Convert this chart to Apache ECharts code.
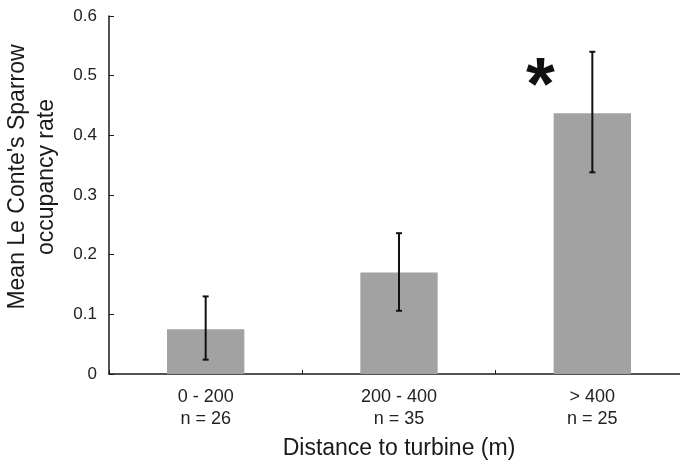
<!DOCTYPE html>
<html>
<head>
<meta charset="utf-8">
<script src="https://cdn.jsdelivr.net/npm/echarts@6/dist/echarts.min.js"></script>
<style>html,body{margin:0;padding:0;background:#fff}#c{width:680px;height:460px}</style>
</head>
<body>
<div id="c"></div>
<script>
const distanceBins = ['0 - 200', '200 - 400', '> 400'];
const sampleSizes = [26, 35, 25];
const meanOccupancy = [0.075, 0.170, 0.437];
const errLow = [0.024, 0.106, 0.338];
const errHigh = [0.130, 0.236, 0.540];
const yTicks = [0, 0.1, 0.2, 0.3, 0.4, 0.5, 0.6];
const significance = ['', '', '*'];

const categories = distanceBins.map((d, i) => d + '\nn = ' + sampleSizes[i]);
const FONT = 'Liberation Sans, Arial, sans-serif';

const chart = echarts.init(document.getElementById('c'), null, {renderer: 'canvas'});
chart.setOption({
  animation: false,
  backgroundColor: '#fff',
  grid: {left: 109, top: 16, width: 580, height: 358, containLabel: false, outerBoundsMode: 'none'},
  xAxis: {
    type: 'category',
    data: categories,
    name: 'Distance to turbine (m)',
    nameLocation: 'middle',
    nameGap: 63,
    nameTextStyle: {fontFamily: FONT, fontSize: 23, color: '#1a1a1a'},
    axisLine: {lineStyle: {color: '#1a1a1a', width: 1.5}},
    axisTick: {show: true, inside: true, length: 4, lineStyle: {color: '#1a1a1a'}},
    axisLabel: {fontFamily: FONT, fontSize: 18, color: '#222', margin: 12, lineHeight: 22},
    splitLine: {show: false}
  },
  yAxis: {
    type: 'value',
    min: yTicks[0],
    max: yTicks[yTicks.length - 1],
    interval: 0.1,
    name: "Mean Le Conte's Sparrow\noccupancy rate",
    nameLocation: 'middle',
    nameGap: 48,
    nameTextStyle: {fontFamily: FONT, fontSize: 23, color: '#1a1a1a', lineHeight: 29, padding: [0, 0, 0, 36]},
    axisLine: {show: true, lineStyle: {color: '#1a1a1a', width: 1.5}},
    axisTick: {show: true, inside: true, length: 5, lineStyle: {color: '#1a1a1a'}},
    axisLabel: {fontFamily: FONT, fontSize: 17, color: '#222', margin: 12,
      formatter: v => (v === 0 ? '0' : v.toFixed(1))},
    splitLine: {show: false}
  },
  series: [
    {
      type: 'bar',
      data: meanOccupancy,
      barWidth: '40%',
      itemStyle: {color: '#a2a2a2'},
      z: 2
    },
    {
      type: 'custom',
      z: 5,
      data: meanOccupancy.map((m, i) => [i, errLow[i], errHigh[i]]),
      renderItem: function (params, api) {
        const x = api.coord([api.value(0), 0])[0];
        const lo = api.coord([api.value(0), api.value(1)])[1];
        const hi = api.coord([api.value(0), api.value(2)])[1];
        const cap = 3;
        const children = [
          {type: 'line', shape: {x1: x, y1: lo, x2: x, y2: hi}, style: {stroke: '#111', lineWidth: 2}},
          {type: 'line', shape: {x1: x - cap, y1: lo, x2: x + cap, y2: lo}, style: {stroke: '#111', lineWidth: 2}},
          {type: 'line', shape: {x1: x - cap, y1: hi, x2: x + cap, y2: hi}, style: {stroke: '#111', lineWidth: 2}}
        ];
        const sig = significance[params.dataIndex];
        if (sig) {
          children.push({
            type: 'text',
            style: {
              text: sig, x: x - 52, y: hi,
              fontFamily: FONT, fontSize: 74, fontWeight: 'bold', fill: '#111',
              align: 'center', verticalAlign: 'top'
            }
          });
        }
        return {type: 'group', children: children};
      }
    }
  ]
});
</script>
</body>
</html>
